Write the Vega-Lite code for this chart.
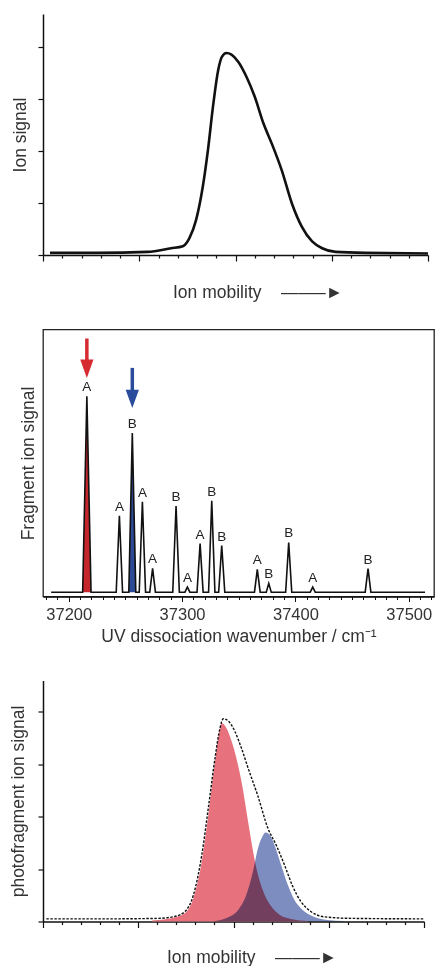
{
  "$schema": "https://vega.github.io/schema/vega-lite/v6.json",
  "padding": {"left": 9, "top": 14, "right": 2, "bottom": 0},
  "config": {
    "font": "Liberation Sans",
    "view": {"stroke": null},
    "axis": {"labelFont": "Liberation Sans", "titleFont": "Liberation Sans", "titleFontWeight": "normal", "titleFontSize": 17.5, "titleColor": "#333", "labelColor": "#333", "domainColor": "#111", "tickColor": "#111", "grid": false}
  },
  "spacing": 34.5,
  "vconcat": [
    {
      "spacing": 26.5,
      "vconcat": [
        {
          "width": 385, "height": 241,
          "data": {"values": [
            {"x": 0.073, "y": 0.04}, {"x": 0.56, "y": 0.04}, {"x": 1.086, "y": 0.06}, {"x": 1.33, "y": 0.13}, {"x": 1.452, "y": 0.17},
            {"x": 1.52, "y": 0.32}, {"x": 1.59, "y": 0.67}, {"x": 1.66, "y": 1.31}, {"x": 1.714, "y": 2.02}, {"x": 1.766, "y": 2.85},
            {"x": 1.82, "y": 3.55}, {"x": 1.86, "y": 3.81}, {"x": 1.906, "y": 3.88}, {"x": 1.958, "y": 3.85}, {"x": 2.03, "y": 3.71},
            {"x": 2.115, "y": 3.42}, {"x": 2.2, "y": 3.04}, {"x": 2.29, "y": 2.53}, {"x": 2.377, "y": 2.14}, {"x": 2.48, "y": 1.63},
            {"x": 2.586, "y": 0.99}, {"x": 2.69, "y": 0.54}, {"x": 2.796, "y": 0.26}, {"x": 2.9, "y": 0.13}, {"x": 3.04, "y": 0.06},
            {"x": 3.35, "y": 0.04}, {"x": 4.0, "y": 0.03}
          ]},
          "mark": {"type": "line", "interpolate": "monotone", "color": "#111", "strokeWidth": 2.6},
          "encoding": {
            "x": {"field": "x", "type": "quantitative", "scale": {"domain": [0, 4], "nice": false, "zero": false},
              "axis": {"title": "Ion mobility\u00a0\u00a0\u00a0\u00a0\u2014\u2014\u2013\u25ba", "values": [0,0.2,0.4,0.6,0.8,1,1.2,1.4,1.6,1.8,2,2.2,2.4,2.6,2.8,3,3.2,3.4,3.6,3.8,4],
                "labels": false, "tickSize": {"condition": {"test": "abs(datum.value - round(datum.value)) < 0.01", "value": 6}, "value": 3},
                "tickWidth": 1.2, "domainWidth": 1.5, "titlePadding": 22, "titleX": 214.5, "titleAlign": "center"}},
            "y": {"field": "y", "type": "quantitative", "scale": {"domain": [0, 4.63], "nice": false},
              "axis": {"title": "Ion signal", "values": [0,1,2,3,4], "labels": false, "tickSize": 5, "tickWidth": 1.2, "domainWidth": 1.5, "titlePadding": 8}}
          }
        },
        {
          "width": 391, "height": 267,
          "view": {"stroke": "#222", "strokeWidth": 1.3},
          "encoding": {
            "x": {"field": "x", "type": "quantitative", "scale": {"domain": [37177.3, 37522.3], "nice": false, "zero": false},
              "axis": {"title": "UV dissociation wavenumber / cm\u207b\u00b9",
                "values": [37180,37190,37200,37210,37220,37230,37240,37250,37260,37270,37280,37290,37300,37310,37320,37330,37340,37350,37360,37370,37380,37390,37400,37410,37420,37430,37440,37450,37460,37470,37480,37490,37500,37510,37520],
                "labelExpr": "datum.value % 100 === 0 ? format(datum.value, 'd') : ''",
                "labelFontSize": 16.5, "labelPadding": 5, "labelOverlap": false, "labelFlush": false,
                "tickSize": {"condition": {"test": "datum.value % 100 === 0", "value": 5}, "value": 3},
                "tickWidth": 1, "domainWidth": 1.3, "titlePadding": 4}},
            "y": {"field": "y", "type": "quantitative", "scale": {"domain": [-2.2, 134.1], "nice": false, "zero": false},
              "axis": {"title": "Fragment ion signal", "ticks": false, "labels": false, "domain": false, "titlePadding": 6}}
          },
          "layer": [
            {
              "data": {"values": [{"x": 37212.3, "y": 0}, {"x": 37216, "y": 100}, {"x": 37219.7, "y": 0}]},
              "mark": {"type": "area", "color": "#c4262c", "opacity": 1}
            },
            {
              "data": {"values": [{"x": 37253, "y": 0}, {"x": 37256.1, "y": 81.3}, {"x": 37259.2, "y": 0}]},
              "mark": {"type": "area", "color": "#2d4a96", "opacity": 1}
            },
            {
              "data": {"values": [
                {"x": 37184.5, "y": 0},
                {"x": 37212.3, "y": 0}, {"x": 37216, "y": 100}, {"x": 37219.7, "y": 0},
                {"x": 37241.9, "y": 0}, {"x": 37244.7, "y": 39.0}, {"x": 37247.5, "y": 0},
                {"x": 37253, "y": 0}, {"x": 37256.1, "y": 81.3}, {"x": 37259.2, "y": 0},
                {"x": 37262.2, "y": 0}, {"x": 37265, "y": 46.2}, {"x": 37267.8, "y": 0},
                {"x": 37271.5, "y": 0}, {"x": 37274, "y": 12.2}, {"x": 37276.5, "y": 0},
                {"x": 37291.8, "y": 0}, {"x": 37294.7, "y": 44.0}, {"x": 37297.6, "y": 0},
                {"x": 37302.5, "y": 0}, {"x": 37304.7, "y": 2.6}, {"x": 37306.9, "y": 0},
                {"x": 37313.2, "y": 0}, {"x": 37315.9, "y": 24.8}, {"x": 37318.6, "y": 0},
                {"x": 37323.4, "y": 0}, {"x": 37326.2, "y": 46.7}, {"x": 37329, "y": 0},
                {"x": 37332.3, "y": 0}, {"x": 37335, "y": 23.8}, {"x": 37337.7, "y": 0},
                {"x": 37363.9, "y": 0}, {"x": 37366.4, "y": 11.6}, {"x": 37368.9, "y": 0},
                {"x": 37374.3, "y": 0}, {"x": 37376.5, "y": 4.5}, {"x": 37378.7, "y": 0},
                {"x": 37391.4, "y": 0}, {"x": 37394.1, "y": 25.4}, {"x": 37396.8, "y": 0},
                {"x": 37413.1, "y": 0}, {"x": 37415.3, "y": 2.6}, {"x": 37417.5, "y": 0},
                {"x": 37461.6, "y": 0}, {"x": 37464.1, "y": 12.0}, {"x": 37466.6, "y": 0},
                {"x": 37514.4, "y": 0}
              ]},
              "mark": {"type": "line", "interpolate": "linear", "color": "#111", "strokeWidth": 1.6}
            },
            {
              "data": {"values": [
                {"x": 37216, "y": 100, "label": "A"}, {"x": 37244.7, "y": 39.0, "label": "A"}, {"x": 37256.1, "y": 81.3, "label": "B"},
                {"x": 37265, "y": 46.2, "label": "A"}, {"x": 37274, "y": 12.2, "label": "A"}, {"x": 37294.7, "y": 44.0, "label": "B"},
                {"x": 37304.7, "y": 2.6, "label": "A"}, {"x": 37315.9, "y": 24.8, "label": "A"}, {"x": 37326.2, "y": 46.7, "label": "B"},
                {"x": 37335, "y": 23.8, "label": "B"}, {"x": 37366.4, "y": 11.6, "label": "A"}, {"x": 37376.5, "y": 4.5, "label": "B"},
                {"x": 37394.1, "y": 25.4, "label": "B"}, {"x": 37415.3, "y": 2.6, "label": "A"}, {"x": 37464.1, "y": 12.0, "label": "B"}
              ]},
              "mark": {"type": "text", "baseline": "bottom", "dy": -2, "fontSize": 13.5, "font": "Liberation Sans", "color": "#222"},
              "encoding": {"text": {"field": "label"}}
            },
            {
              "data": {"values": [
                {"x": 37216, "y": 129.5, "y2": 117.5, "conformer": "A"},
                {"x": 37256.1, "y": 114.5, "y2": 103.2, "conformer": "B"}
              ]},
              "mark": {"type": "rule", "strokeWidth": 3.5},
              "encoding": {
                "y2": {"field": "y2"},
                "color": {"field": "conformer", "type": "nominal", "scale": {"domain": ["A", "B"], "range": ["#d42a30", "#2a4b9b"]}, "legend": null}
              }
            },
            {
              "data": {"values": [
                {"x": 37216, "y": 114.1, "conformer": "A"},
                {"x": 37256.1, "y": 98.7, "conformer": "B"}
              ]},
              "mark": {"type": "point", "filled": true, "opacity": 1, "size": 339, "shape": "M-0.72,-1L0.72,-1L0,1Z"},
              "encoding": {
                "color": {"field": "conformer", "type": "nominal", "scale": {"domain": ["A", "B"], "range": ["#d42a30", "#2a4b9b"]}, "legend": null}
              }
            }
          ]
        }
      ]
    },
    {
      "width": 381, "height": 241,
      "encoding": {
        "x": {"field": "x", "type": "quantitative", "scale": {"domain": [0, 4], "nice": false, "zero": false},
          "axis": {"title": "Ion mobility\u00a0\u00a0\u00a0\u00a0\u2014\u2014\u2013\u25ba", "values": [0,0.2,0.4,0.6,0.8,1,1.2,1.4,1.6,1.8,2,2.2,2.4,2.6,2.8,3,3.2,3.4,3.6,3.8,4],
            "labels": false, "tickSize": {"condition": {"test": "abs(datum.value - round(datum.value)) < 0.01", "value": 6}, "value": 3},
            "tickWidth": 1.2, "domainWidth": 1.5, "titlePadding": 20, "titleX": 208.5, "titleAlign": "center"}},
        "y": {"field": "y", "type": "quantitative", "scale": {"domain": [0, 4.6], "nice": false},
          "axis": {"title": "photofragment ion signal", "values": [0,1,2,3,4], "labels": false, "tickSize": 5, "tickWidth": 1.2, "domainWidth": 1.5, "titlePadding": 10}}
      },
      "layer": [
        {
          "data": {"values": [
            {"x": 1.146, "y": 0.02}, {"x": 1.39, "y": 0.08}, {"x": 1.49, "y": 0.16}, {"x": 1.58, "y": 0.45}, {"x": 1.667, "y": 1.15},
            {"x": 1.736, "y": 2.04}, {"x": 1.806, "y": 3.06}, {"x": 1.858, "y": 3.69}, {"x": 1.875, "y": 3.79}, {"x": 1.927, "y": 3.69},
            {"x": 1.98, "y": 3.44}, {"x": 2.03, "y": 3.12}, {"x": 2.083, "y": 2.68}, {"x": 2.153, "y": 1.91}, {"x": 2.205, "y": 1.34},
            {"x": 2.257, "y": 0.89}, {"x": 2.326, "y": 0.51}, {"x": 2.396, "y": 0.29}, {"x": 2.483, "y": 0.13}, {"x": 2.604, "y": 0.05},
            {"x": 2.78, "y": 0.01}
          ]},
          "mark": {"type": "area", "interpolate": "monotone", "color": "#e8717e", "opacity": 1}
        },
        {
          "data": {"values": [
            {"x": 1.806, "y": 0.01}, {"x": 1.944, "y": 0.08}, {"x": 2.049, "y": 0.22}, {"x": 2.135, "y": 0.51}, {"x": 2.205, "y": 0.96},
            {"x": 2.257, "y": 1.4}, {"x": 2.302, "y": 1.62}, {"x": 2.337, "y": 1.7}, {"x": 2.378, "y": 1.66}, {"x": 2.43, "y": 1.46},
            {"x": 2.5, "y": 1.08}, {"x": 2.57, "y": 0.7}, {"x": 2.64, "y": 0.41}, {"x": 2.726, "y": 0.22}, {"x": 2.83, "y": 0.1},
            {"x": 2.986, "y": 0.03}, {"x": 3.16, "y": 0.01}
          ]},
          "mark": {"type": "area", "interpolate": "monotone", "color": "#7d8dbf", "opacity": 1, "blend": "multiply"}
        },
        {
          "data": {"values": [
            {"x": 0.035, "y": 0.05}, {"x": 0.625, "y": 0.05}, {"x": 1.215, "y": 0.06}, {"x": 1.39, "y": 0.1}, {"x": 1.49, "y": 0.19},
            {"x": 1.58, "y": 0.51}, {"x": 1.667, "y": 1.27}, {"x": 1.736, "y": 2.17}, {"x": 1.806, "y": 3.12}, {"x": 1.858, "y": 3.69},
            {"x": 1.892, "y": 3.87}, {"x": 1.944, "y": 3.83}, {"x": 2.014, "y": 3.63}, {"x": 2.083, "y": 3.31}, {"x": 2.153, "y": 2.93},
            {"x": 2.257, "y": 2.39}, {"x": 2.361, "y": 1.78}, {"x": 2.448, "y": 1.46}, {"x": 2.535, "y": 1.08}, {"x": 2.622, "y": 0.67},
            {"x": 2.708, "y": 0.38}, {"x": 2.8125, "y": 0.19}, {"x": 2.95, "y": 0.09}, {"x": 3.23, "y": 0.06}, {"x": 4.0, "y": 0.05}
          ]},
          "mark": {"type": "line", "interpolate": "monotone", "color": "#111", "strokeWidth": 1.4, "strokeDash": [2.5, 1.5]}
        }
      ]
    }
  ]
}
